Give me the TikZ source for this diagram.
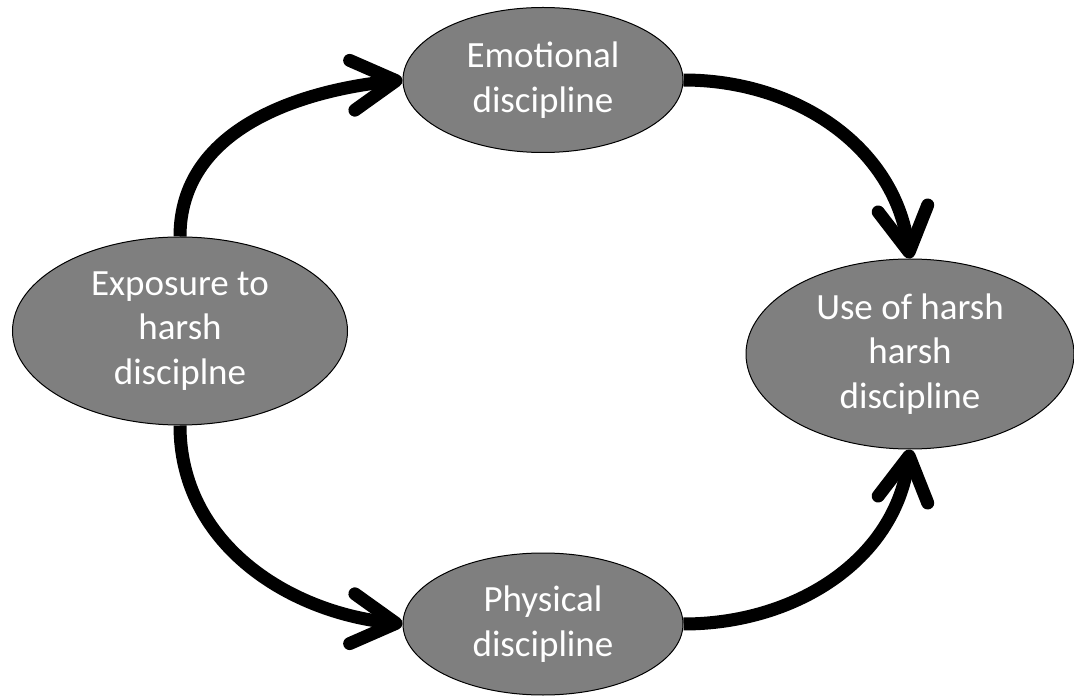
\documentclass[tikz,border=0pt]{standalone}
\usepackage{fontspec}
\setmainfont{Carlito}
\usetikzlibrary{shapes.geometric,arrows.meta}
\definecolor{bubblegray}{RGB}{127,127,127}
\begin{document}
\begin{tikzpicture}[x=1pt,y=-1pt,
  bubble/.style={ellipse,draw=black,line width=1pt,fill=bubblegray,text=white,
    inner sep=0pt,align=center,font=\fontsize{37}{44.5}\selectfont},
  flow/.style={line width=13pt,-{Straight Barb[length=44pt,width=50pt,round]}}]
\useasboundingbox (0,0) rectangle (1074,700);
\node[bubble,minimum width=335pt,minimum height=188pt] (L) at (180,331) {Exposure to\\harsh\\disciplne};
\node[bubble,minimum width=280pt,minimum height=145pt] (T) at (543,80) {Emotional\\discipline};
\node[bubble,minimum width=280pt,minimum height=142pt] (B) at (543,624) {Physical\\discipline};
\node[bubble,minimum width=328pt,minimum height=190pt] (R) at (910,354) {Use of harsh\\harsh\\discipline};
\draw[flow] (L.north) to[out=90,in=186] (T.west);
\draw[flow] (T.east) to[out=0,in=98] (R.north);
\draw[flow] (L.south) to[out=-90,in=174] (B.west);
\draw[flow] (B.east) to[out=0,in=-98] (R.south);
\end{tikzpicture}
\end{document}
